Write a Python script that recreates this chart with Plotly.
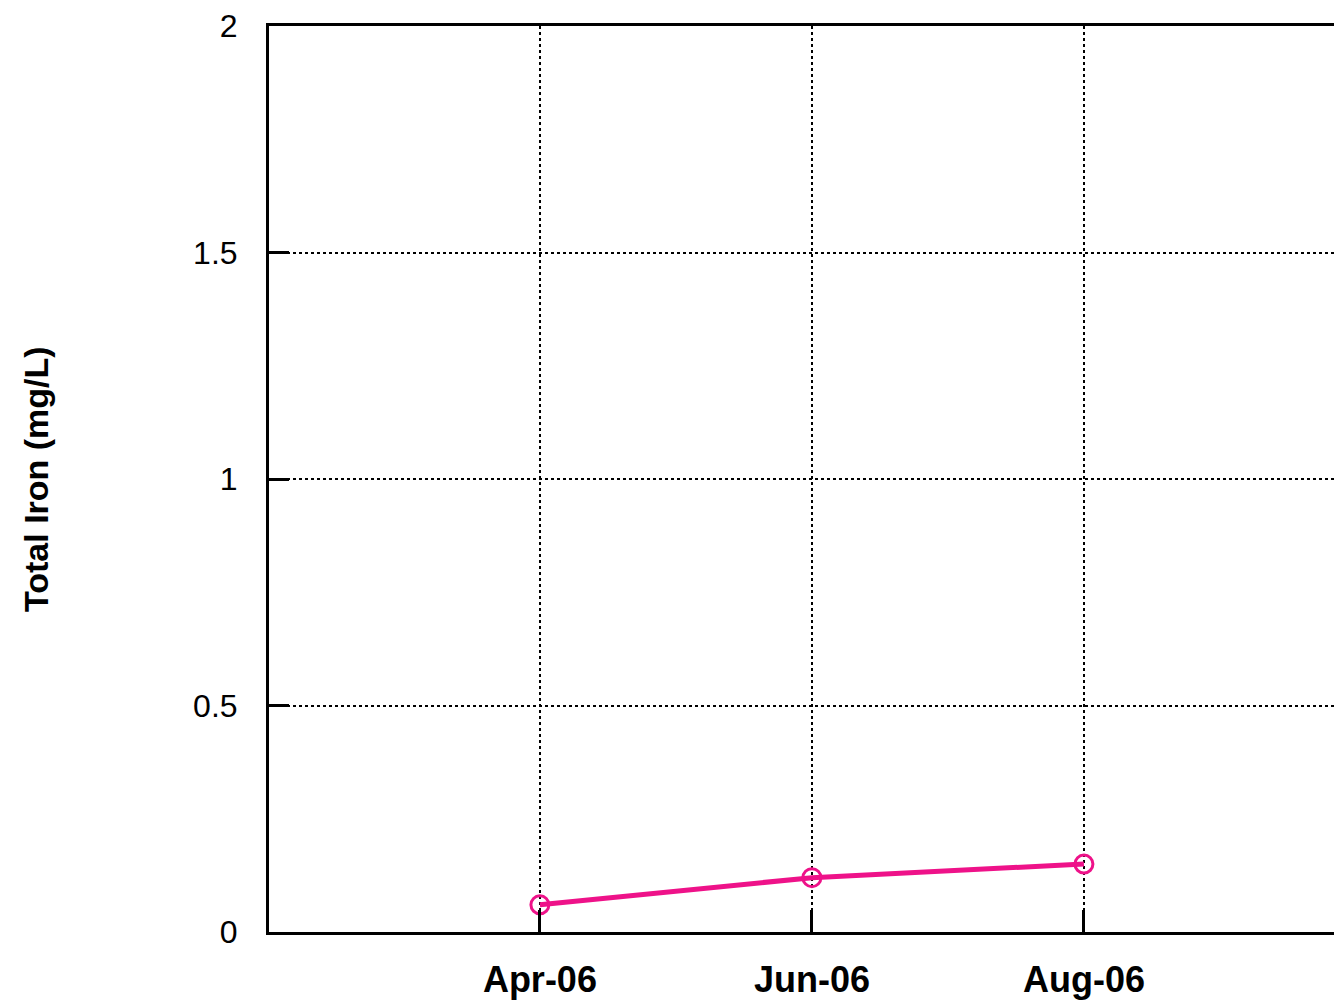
import plotly.graph_objects as go

dates = ["2006-04-01", "2006-06-01", "2006-08-01"]
iron = [0.06, 0.12, 0.15]
x_tick_vals = ["2006-04-01", "2006-06-01", "2006-08-01"]
x_tick_text = ["Apr-06", "Jun-06", "Aug-06"]
y_tick_vals = [0, 0.5, 1, 1.5, 2]
y_tick_text = ["0", "0.5", "1", "1.5", "2"]

pink = "#EE1289"

fig = go.Figure()
fig.add_trace(go.Scatter(
    x=dates, y=iron, mode="lines+markers",
    line=dict(color=pink, width=5),
    marker=dict(symbol="circle-open", size=18, color=pink, line=dict(width=3, color=pink)),
    showlegend=False,
))

fig.update_layout(
    width=1334, height=995,
    margin=dict(l=261, r=0, t=12, b=71),
    paper_bgcolor="white", plot_bgcolor="white",
    font=dict(family="Liberation Sans, Arial, sans-serif", color="black"),
    xaxis=dict(
        type="date",
        range=["2006-01-30 06:00", "2006-09-27 21:00"],
        tickvals=x_tick_vals, ticktext=x_tick_text,
        tickfont=dict(size=36, family="Liberation Sans, Arial, sans-serif", weight="bold"),
        ticks="inside", ticklen=22, tickwidth=3, tickcolor="black",
        showline=True, linewidth=3, linecolor="black", mirror=True,
        showgrid=True, gridcolor="black", gridwidth=2, griddash="dot",
        zeroline=False, ticklabelstandoff=14,
    ),
    yaxis=dict(
        range=[0, 2],
        tickvals=y_tick_vals, ticktext=y_tick_text,
        tickfont=dict(size=32, family="Liberation Sans, Arial, sans-serif"),
        ticks="inside", ticklen=20, tickwidth=3, tickcolor="black",
        showline=True, linewidth=3, linecolor="black", mirror=False,
        showgrid=True, gridcolor="black", gridwidth=2, griddash="dot",
        zeroline=False, ticklabelstandoff=22, ticklabeloverflow="allow",
    ),
    annotations=[dict(
        text="<b>Total Iron (mg/L)</b>", textangle=-90,
        xref="paper", yref="paper", x=0, y=0.5, xanchor="center", yanchor="middle",
        xshift=-233, showarrow=False,
        font=dict(size=34, family="Liberation Sans, Arial, sans-serif", color="black"),
    )],
)

fig.write_html("out.html")
